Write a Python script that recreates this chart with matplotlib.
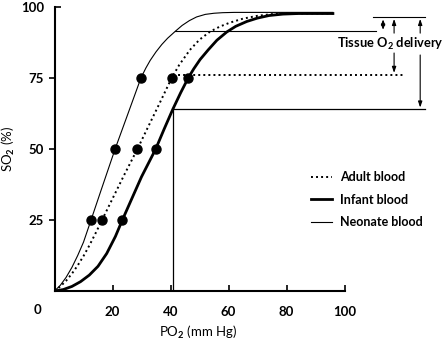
import matplotlib
matplotlib.use("Agg")
import matplotlib.pyplot as plt
import matplotlib.lines as mlines

plt.rcParams["font.family"] = ["Lato", "DejaVu Sans"]
plt.rcParams["font.weight"] = "bold"
plt.rcParams["mathtext.fontset"] = "custom"
plt.rcParams["mathtext.rm"] = "Lato:bold"
plt.rcParams["mathtext.default"] = "rm"

# dissociation curves (PO2 mm Hg, SO2 %)
adult_po2 = [0, 2, 4, 6, 8, 10, 12, 14, 16.4, 20, 24, 28.6, 32, 36, 40.4, 43, 46.7, 50,
             53.6, 57, 60.5, 65, 70, 75, 80, 96]
adult_so2 = [0, 1.6, 3.6, 6.1, 9.0, 12.3, 16, 20, 25, 32.5, 40.8, 50, 57.2, 65.6, 75, 79.6,
             84.9, 88.5, 91.3, 93.1, 94.5, 95.9, 96.9, 97.5, 97.7, 97.7]

infant_po2 = [0, 3, 6, 9, 12, 15, 18, 21, 23.4, 26, 30, 34.9, 37.8, 40.8, 43.5, 46.1, 48,
              50.2, 53, 56, 59.4, 62.5, 66.3, 70, 74, 78.8, 84, 96]
infant_so2 = [0, 0.5, 1.6, 3.3, 5.6, 8.7, 13.2, 19.2, 25, 31, 40.2, 50, 57, 64, 69.8, 75, 78.2,
              81.5, 84.9, 88.3, 91.2, 93.2, 94.9, 96.1, 97, 97.5, 97.7, 97.7]

neonate_po2 = [0, 2, 4, 6, 8, 10, 12.6, 16, 20.9, 25, 29.8, 31.5, 33, 35, 37, 39, 41.6, 44,
               46.5, 49, 52, 55, 58, 62, 70, 96]
neonate_so2 = [0, 2, 4.8, 8.3, 12.5, 17.2, 25, 35.3, 50, 61.5, 75, 78.5, 81.2, 84.2, 86.8,
               89.0, 91.4, 93.5, 95.2, 96.5, 97.4, 97.8, 98, 98.1, 98.1, 98.1]

# measured points at 25/50/75 % saturation
pt_so2 = [25, 50, 75]
adult_pt_po2 = [16.4, 28.6, 40.4]
infant_pt_po2 = [23.4, 34.9, 46.1]
neonate_pt_po2 = [12.6, 20.9, 29.8]

# delivery levels
top_level = 96.5
neonate_level = 91.4
adult_level = 76
infant_level = 64
venous_po2 = 40.8

fig = plt.figure(figsize=(4.46, 3.41), dpi=100)
ax = fig.add_axes([54.5 / 446, 50 / 341, 391.5 / 446, 284 / 341])
ax.set_xlim(0, 135)
ax.set_ylim(0, 100)

dots = (0, (1, 1.6))
ax.plot(adult_po2, adult_so2, color="black", lw=1.4, ls=dots, label="Adult blood")
ax.plot(infant_po2, infant_so2, color="black", lw=2.0, label="Infant blood")
ax.plot(neonate_po2, neonate_so2, color="black", lw=0.8, label="Neonate blood")
for xs in (adult_pt_po2, infant_pt_po2, neonate_pt_po2):
    ax.plot(xs, pt_so2, "o", color="black", ms=6.5, zorder=5)

# reference lines to the right
ax.plot([109.8, 127.8], [top_level] * 2, color="black", lw=0.8, clip_on=False)
ax.plot([41.6, 110.9], [neonate_level] * 2, color="black", lw=0.8, clip_on=False)
ax.plot([41.0, 120.2], [adult_level] * 2, color="black", lw=1.4, ls=dots, clip_on=False)
ax.plot([venous_po2, 127.8], [infant_level] * 2, color="black", lw=0.9, clip_on=False)
ax.plot([venous_po2, venous_po2], [0, infant_level], color="black", lw=0.9)

arr = dict(arrowstyle="-|>,head_length=0.35,head_width=0.12", color="black", lw=0.8,
           shrinkA=0, shrinkB=0)
dbl = dict(arrowstyle="<|-|>,head_length=0.3,head_width=0.12", color="black", lw=0.8,
           shrinkA=0, shrinkB=0)
ax.annotate("", xy=(113.3, 95.6), xytext=(113.3, 92.0), arrowprops=dbl, annotation_clip=False)
ax.annotate("", xy=(117.1, 95.8), xytext=(117.1, 90.8), arrowprops=arr, annotation_clip=False)
ax.annotate("", xy=(117.1, adult_level + 0.8), xytext=(117.1, 83.8), arrowprops=arr, annotation_clip=False)
ax.annotate("", xy=(126.1, 95.8), xytext=(126.1, 90.8), arrowprops=arr, annotation_clip=False)
ax.annotate("", xy=(126.1, infant_level + 0.6), xytext=(126.1, 83.1), arrowprops=arr, annotation_clip=False)
ax.text(115.7, 87, "Tissue O$_2$ delivery", ha="center", va="center", fontsize=9.3)

for s in ("top", "right"):
    ax.spines[s].set_visible(False)
ax.spines["left"].set_bounds(0, 100)
ax.spines["bottom"].set_bounds(0, 100)
ax.spines["left"].set_linewidth(1.5)
ax.spines["bottom"].set_linewidth(1.5)

ax.set_xticks([20, 40, 60, 80, 100])
ax.set_yticks([25, 50, 75, 100])
ax.tick_params(axis="x", direction="in", length=4, width=1.2, pad=10.5, labelsize=9.5)
ax.tick_params(axis="y", direction="out", length=4.5, width=1.2, pad=3, labelsize=9.5)
ax.yaxis.get_major_ticks()[-1].tick1line.set_marker(mlines.TICKRIGHT)
ax.text(-6, -6.8, "0", ha="center", va="center", fontsize=9.5)

ax.set_xlabel("PO$_2$ (mm Hg)", fontsize=9.5, labelpad=4.5, x=(198 - 54.5) / 391.5)
ax.set_ylabel("SO$_2$ (%)", fontsize=9.5)
ax.yaxis.set_label_coords((17 - 54.5) / 391.5, 0.5)

ax.legend(loc="upper left", bbox_to_anchor=(0.655, 0.422), frameon=False, fontsize=9,
          handlelength=1.7, handletextpad=0.6, labelspacing=0.85, borderpad=0, borderaxespad=0)

fig.savefig("out.png", dpi=100)
